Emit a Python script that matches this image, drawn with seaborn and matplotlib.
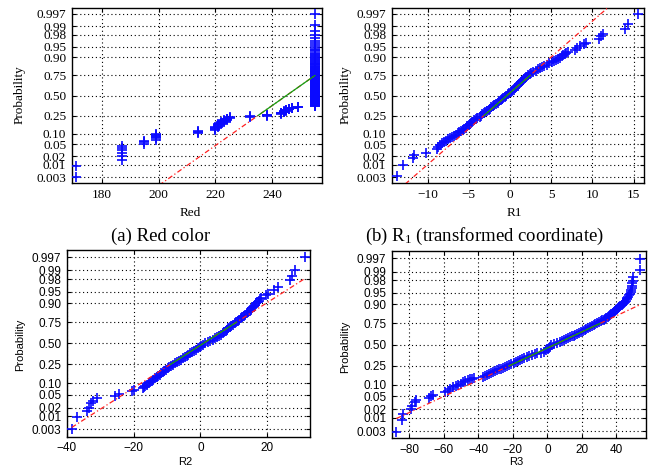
import numpy as np
import pandas as pd
import matplotlib
matplotlib.use("Agg")
import matplotlib.pyplot as plt
import seaborn as sns
from statistics import NormalDist

ND = NormalDist()

# ---------------- data ----------------
prob_ticks = [0.003, 0.01, 0.02, 0.05, 0.10, 0.25, 0.50, 0.75, 0.90, 0.95, 0.98, 0.99, 0.997]
prob_labels = ['0.003', '0.01', '0.02', '0.05', '0.10', '0.25', '0.50', '0.75',
               '0.90', '0.95', '0.98', '0.99', '0.997']

# (a) Red colour: discrete values and how many samples have each value
red_values = [171, 187, 195, 199, 214, 220, 221, 222, 223, 224, 225,
              232, 238, 243, 244, 245, 246, 247, 249, 255]
red_counts = [2, 6, 3, 6, 3, 4, 4, 3, 3, 3, 2,
              2, 3, 3, 3, 3, 2, 2, 2, 108]
red_quartiles = [235.0, 255.0]

# (b) R1: observed value and its normal score (position on the probability axis)
r1_x = [-13.75, -13.0, -11.8, -11.7, -10.2, -8.9, -8.7, -8.5,
        -8.2, -8.0, -7.75, -7.5, -7.3, -7.05, -6.8, -6.6, -6.35, -6.15, -5.95, -5.75,
        -5.55, -5.4, -5.25, -5.0, -4.9, -4.75, -4.6, -4.4, -4.15, -3.95, -3.7, -3.5,
        -3.35, -3.15, -3.0, -2.8, -2.6, -2.45, -2.25, -2.05, -1.9, -1.7, -1.5, -1.35,
        -1.15, -0.95, -0.8, -0.6, -0.45, -0.25, -0.1, 0.1, 0.25, 0.45, 0.6, 0.75, 0.9,
        1.0, 1.15, 1.3, 1.45, 1.6, 1.75, 1.85, 2.0, 2.2, 2.4, 2.6, 2.8, 3.1, 3.35, 3.6,
        3.9, 4.15, 4.45, 4.75, 5.05, 5.3, 5.6, 5.85, 6.05, 6.25, 6.45, 6.65, 6.85, 7.0,
        7.9, 8.1, 8.5, 9.0, 9.2, 10.8, 11.1, 11.3, 14.0, 14.3, 15.5]
r1_z = [-2.72, -2.33, -2.12, -2.02, -1.95, -1.82, -1.75, -1.68,
        -1.60, -1.56, -1.52, -1.48, -1.44, -1.40, -1.36, -1.32, -1.28, -1.24, -1.20, -1.16,
        -1.12, -1.08, -1.04, -1.00, -0.96, -0.92, -0.88, -0.84, -0.80, -0.76, -0.72, -0.68,
        -0.64, -0.60, -0.56, -0.52, -0.48, -0.44, -0.40, -0.36, -0.32, -0.28, -0.24, -0.20,
        -0.16, -0.12, -0.08, -0.04, 0.00, 0.04, 0.08, 0.12, 0.16, 0.20, 0.24, 0.28, 0.32,
        0.36, 0.40, 0.44, 0.48, 0.52, 0.56, 0.60, 0.64, 0.68, 0.72, 0.76, 0.80, 0.84, 0.88, 0.92,
        0.96, 1.00, 1.04, 1.08, 1.12, 1.16, 1.20, 1.24, 1.28, 1.32, 1.36, 1.40, 1.44, 1.48,
        1.54, 1.60, 1.66, 1.73, 1.78, 1.92, 1.99, 2.06, 2.24, 2.40, 2.76]
r1_quartiles = [-3.16, 2.42]

# (c) R2
r2_x = [-38.5, -36.8, -34.0, -33.4, -32.8, -32.2, -31.0, -25.5, -24.5, -20.5, -20.0, -17.2,
        -17.0, -16.6, -16.0, -15.4, -15.0, -14.6, -14.1, -13.6, -13.1, -12.6, -12.2, -11.7,
        -11.3, -10.9, -10.4, -9.8, -9.3, -8.7, -8.1, -7.5, -6.9, -6.4, -5.8, -5.3, -4.7,
        -4.1, -3.6, -3.0, -2.4, -1.9, -1.3, -0.8, -0.2, 0.3, 0.8, 1.5, 2.2, 3.0, 3.8, 4.5,
        5.0, 5.6, 6.2, 6.7, 7.1, 7.6, 8.0, 8.4, 8.9, 9.3, 9.8, 10.3, 10.7, 11.2, 11.6, 12.1,
        12.6, 13.0, 13.4, 13.9, 14.3, 14.7, 15.0, 15.3, 15.6, 15.9, 16.3, 16.7, 17.1, 17.4,
        17.7, 18.1, 19.6, 20.2, 22.0, 23.3, 26.8, 27.3, 28.3, 31.3]
r2_z = [-2.73, -2.35, -2.16, -2.05, -1.92, -1.83, -1.76, -1.69, -1.62, -1.52, -1.48, -1.43,
        -1.40, -1.36, -1.32, -1.28, -1.24, -1.20, -1.16, -1.12, -1.08, -1.04, -1.00, -0.96,
        -0.92, -0.88, -0.84, -0.80, -0.76, -0.72, -0.68, -0.64, -0.60, -0.56, -0.52, -0.48, -0.44,
        -0.40, -0.36, -0.32, -0.28, -0.24, -0.20, -0.16, -0.12, -0.08, -0.04, 0.00, 0.04, 0.08, 0.12, 0.16,
        0.20, 0.24, 0.28, 0.32, 0.36, 0.40, 0.44, 0.48, 0.52, 0.56, 0.60, 0.64, 0.68, 0.72, 0.76, 0.80,
        0.84, 0.88, 0.92, 0.96, 1.00, 1.04, 1.08, 1.12, 1.16, 1.20, 1.24, 1.28, 1.32, 1.36,
        1.40, 1.44, 1.53, 1.58, 1.71, 1.80, 2.02, 2.14, 2.34, 2.76]
r2_quartiles = [-9.0, 10.8]

# (d) R3
r3_x = [-87.5, -84.0, -83.5, -79.0, -78.3, -76.7, -76.0, -68.6, -67.4, -66.0, -59.3, -57.5,
        -56.4, -54.5, -53.0, -51.6, -50.0, -48.7, -47.7, -46.0, -44.8, -43.5, -42.5,
        -37.1, -36.0, -34.8, -33.6, -32.5, -31.4, -30.3, -29.3, -28.1, -26.9, -25.6, -24.4,
        -23.2, -22.0, -20.8, -19.5, -18.3, -17.1, -15.9, -14.7, -13.4, -11.9, -10.4, -8.9,
        -7.4, -5.8, -3.8, -1.8, -0.5, 0.3, 0.9, 1.3, 2.0, 4.0, 5.8, 7.4, 8.5, 9.6, 10.7,
        11.9, 13.0, 14.1, 15.2, 16.3, 17.4, 18.5, 19.5, 20.6, 21.6, 22.7, 23.7, 24.8, 25.8,
        26.9, 27.9, 29.0, 30.0, 30.9, 31.8, 32.6, 33.4, 34.2, 35.0, 35.7, 36.4, 37.1, 37.8,
        38.5, 39.2, 39.8, 40.4, 41.0, 41.7, 42.4, 43.0, 43.6, 44.1, 44.6, 45.0, 45.4, 45.9,
        46.4, 46.8, 47.4, 47.9, 48.3, 48.6, 48.9, 49.1, 49.2, 49.4, 49.8, 53.7, 53.7]
r3_z = [-2.77, -2.40, -2.20, -2.04, -1.94, -1.84, -1.77, -1.70, -1.64, -1.59, -1.52, -1.46,
        -1.41, -1.36, -1.32, -1.28, -1.24, -1.20, -1.17, -1.13, -1.10, -1.08, -1.06,
        -1.03, -1.00, -0.97, -0.94, -0.91, -0.88, -0.85, -0.82, -0.79, -0.76, -0.73, -0.70,
        -0.67, -0.64, -0.61, -0.58, -0.55, -0.52, -0.49, -0.46, -0.43, -0.40, -0.37, -0.34,
        -0.31, -0.28, -0.25, -0.22, -0.18, -0.14, -0.10, -0.06, -0.02, 0.02, 0.05, 0.08, 0.11, 0.14, 0.17,
        0.20, 0.23, 0.26, 0.29, 0.32, 0.35, 0.38, 0.41, 0.44, 0.47, 0.50, 0.53, 0.56, 0.59,
        0.62, 0.65, 0.68, 0.71, 0.74, 0.77, 0.80, 0.83, 0.86, 0.89, 0.92, 0.95, 0.98, 1.01,
        1.04, 1.07, 1.10, 1.13, 1.16, 1.19, 1.22, 1.25, 1.28, 1.31, 1.34, 1.37, 1.40, 1.44,
        1.48, 1.52, 1.57, 1.62, 1.67, 1.73, 1.80, 1.87, 1.95, 2.04, 2.15, 2.36, 2.73]
r3_quartiles = [-22.1, 30.5]

# ---------------- helpers ----------------
red_samples = np.repeat(red_values, red_counts).astype(float)
n_red = len(red_samples)
red_z = [ND.inv_cdf((i - 0.5) / n_red) for i in range(1, n_red + 1)]

Q = ND.inv_cdf(0.75)


def ref_line(xmin, xmax, q):
    slope = 2 * Q / (q[1] - q[0])
    f = lambda x: -Q + (x - q[0]) * slope
    return [xmin, xmax], [f(xmin), f(xmax)], [q[0], q[1]], [-Q, Q]


W, H = 657, 472
fig = plt.figure(figsize=(W / 100, H / 100), dpi=100)


def px_rect(l, r, t, b):
    return [l / W, 1 - b / H, (r - l) / W, (b - t) / H]


panels = [
    dict(x=red_samples, z=red_z, q=red_quartiles, rect=px_rect(71.7, 321.7, 8, 183),
         xlim=(169.4, 257.4), xticks=[180, 200, 220, 240], xlabel='Red',
         font='Liberation Serif', tfs=9.5, lfs=9.5, ylim=2.95,
         ylab=(-0.207, 0.503), xlab=(0.473, -0.171)),
    dict(x=r1_x, z=r1_z, q=r1_quartiles, rect=px_rect(391.7, 643.5, 8, 183),
         xlim=(-14.36, 16.2), xticks=[-10, -5, 0, 5, 10, 15], xlabel='R1',
         font='Liberation Serif', tfs=9.5, lfs=9.5, ylim=2.95,
         ylab=(-0.185, 0.503), xlab=(0.489, -0.171)),
    dict(x=r2_x, z=r2_z, q=r2_quartiles, rect=px_rect(66.7, 310, 250, 436.7),
         xlim=(-39.7, 32.8), xticks=[-40, -20, 0, 20], xlabel='R2',
         font='Liberation Sans', tfs=8.5, lfs=8, ylim=2.98,
         ylab=(-0.192, 0.49), xlab=(0.486, -0.134)),
    dict(x=r3_x, z=r3_z, q=r3_quartiles, rect=px_rect(391.7, 646, 251, 438.3),
         xlim=(-90.2, 57.2), xticks=[-80, -60, -40, -20, 0, 20, 40], xlabel='R3',
         font='Liberation Sans', tfs=8.5, lfs=8, ylim=2.98,
         ylab=(-0.184, 0.49), xlab=(0.4915, -0.125)),
]

ytick_pos = [ND.inv_cdf(p) for p in prob_ticks]

for P in panels:
    ax = fig.add_axes(P['rect'])
    df = pd.DataFrame({'x': P['x'], 'z': P['z']})
    sns.scatterplot(data=df, x='x', y='z', marker='+', s=58, color='#0a0aff',
                    linewidth=1.2, ax=ax, zorder=3, legend=False)
    lx, lz, gx, gz = ref_line(float(np.min(P['x'])), float(np.max(P['x'])), P['q'])
    sns.lineplot(x=lx, y=lz, ax=ax, color='#ff2020', lw=0.9, sort=False,
                 estimator=None, zorder=4)
    ax.lines[-1].set_dashes([4, 2, 1, 2])
    sns.lineplot(x=gx, y=gz, ax=ax, color='#10a010', lw=0.9, sort=False,
                 estimator=None, zorder=5)

    ax.set_xlim(*P['xlim'])
    ax.set_ylim(-P['ylim'], P['ylim'])
    ax.set_xticks(P['xticks'])
    ax.set_yticks(ytick_pos)
    ax.set_yticklabels(prob_labels)
    ax.grid(True, color='black', linestyle=(0, (1, 2.5)), linewidth=0.8)
    ax.set_axisbelow(True)
    for s in ax.spines.values():
        s.set_color('black')
        s.set_linewidth(1.0)
    ax.tick_params(direction='in', length=3, top=True, right=True, pad=4,
                   labelsize=P['tfs'], colors='black')
    for lab in ax.get_xticklabels() + ax.get_yticklabels():
        lab.set_family(P['font'])
    ax.set_xlabel(P['xlabel'], family=P['font'], fontsize=P['lfs'])
    ax.set_ylabel('Probability', family=P['font'], fontsize=P['lfs'])
    ax.xaxis.set_label_coords(*P['xlab'])
    ax.xaxis.label.set_va('center')
    ax.yaxis.set_label_coords(*P['ylab'])
    ax.yaxis.label.set_va('center')

plt.rcParams['mathtext.default'] = 'regular'
fig.text(161 / W, 1 - 236 / H, '(a) Red color', ha='center', va='center',
         fontsize=13.5, family='Liberation Serif')
fig.text(484 / W, 1 - 236 / H, '(b) R$_1$ (transformed coordinate)', ha='center',
         va='center', fontsize=13.5, family='Liberation Serif')

fig.savefig('out.png', dpi=100)
